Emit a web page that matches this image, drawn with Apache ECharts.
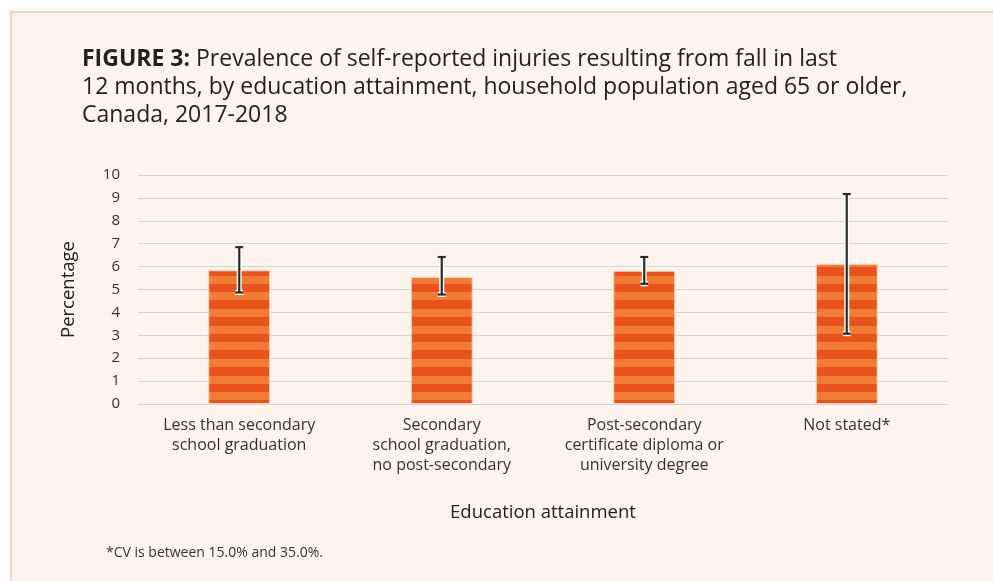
<!DOCTYPE html>
<html>
<head>
<meta charset="utf-8">
<script src="https://cdn.jsdelivr.net/npm/echarts@6/dist/echarts.min.js"></script>
<style>
html,body{margin:0;padding:0;background:#fff;}
#chart{width:993px;height:581px;}
</style>
</head>
<body>
<div id="chart"></div>
<script>
// data
var categories = [
    'Less than secondary\nschool graduation',
    'Secondary\nschool graduation,\nno post-secondary',
    'Post-secondary\ncertificate diploma or\nuniversity degree',
    'Not stated*'
];
var values = [5.84, 5.55, 5.82, 6.12];
var lowCI = [4.87, 4.78, 5.25, 3.07];
var highCI = [6.85, 6.42, 6.42, 9.17];
var yTicks = [0, 10, 1];  // min, max, interval

var chart = echarts.init(document.getElementById('chart'));

// striped fill for the bars
function stripes(){
    var c = document.createElement('canvas');
    c.width = 4; c.height = 50;
    var ctx = c.getContext('2d');
    var seq = [9, 8, 9, 8, 8, 8];
    var y = 0;
    for (var i = 0; i < seq.length; i++) {
        ctx.fillStyle = i % 2 === 0 ? '#e9511d' : '#f17c33';
        ctx.fillRect(0, y, 4, seq[i]);
        y += seq[i];
    }
    return c;
}

var errData = categories.map(function(c, i){ return [i, lowCI[i], highCI[i]]; });

const option = {
    backgroundColor: '#fff',
    animation: false,
    textStyle: { fontFamily: 'Open Sans' },
    graphic: [
        {
            type: 'rect', z: -10,
            shape: { x: 11, y: 12, width: 990, height: 580 },
            style: { fill: '#fdf4ee', stroke: '#f7c5ad', lineWidth: 1.5 }
        },
        {
            type: 'text', left: 82, top: 45,
            style: {
                text: '{b|FIGURE 3:} Prevalence of self-reported injuries resulting from fall in last\n12 months, by education attainment, household population aged 65 or older,\nCanada, 2017-2018',
                font: '23px "Open Sans"', fill: '#222', lineHeight: 28,
                rich: { b: { font: 'bold 23px "Open Sans"', fill: '#222' } }
            }
        },
        {
            type: 'text', left: 106, top: 546,
            style: { text: '*CV is between 15.0% and 35.0%.', font: '14px "Open Sans"', fill: '#333' }
        }
    ],
    grid: { left: 138, right: 45, top: 175, bottom: 177 },
    xAxis: {
        type: 'category',
        data: categories,
        name: 'Education attainment',
        nameLocation: 'middle',
        nameGap: 99,
        nameTextStyle: { fontSize: 18.5, color: '#222' },
        axisTick: { show: false },
        axisLine: { lineStyle: { color: '#d6d0cc' } },
        axisLabel: { color: '#333', fontSize: 16, lineHeight: 20, margin: 11, interval: 0 }
    },
    yAxis: {
        type: 'value',
        min: yTicks[0], max: yTicks[1], interval: yTicks[2],
        name: 'Percentage',
        nameLocation: 'middle',
        nameGap: 60,
        nameTextStyle: { fontSize: 18.5, color: '#222' },
        axisLine: { show: false },
        axisTick: { show: false },
        axisLabel: { color: '#333', fontSize: 15, margin: 18 },
        splitLine: { lineStyle: { color: '#d9d3cf', width: 1 } }
    },
    series: [
        {
            type: 'bar',
            data: values,
            barWidth: 62,
            itemStyle: {
                color: { image: stripes(), repeat: 'repeat' },
                borderColor: '#f9d9c8',
                borderWidth: 1
            }
        },
        {
            type: 'custom',
            data: errData,
            z: 10,
            renderItem: function(params, api){
                var x = api.value(0);
                var lo = api.coord([x, api.value(1)]);
                var hi = api.coord([x, api.value(2)]);
                var w = 4;
                var st = { stroke: '#2b2b2b', lineWidth: 2.2 };
                var halo = { stroke: '#ffffff', lineWidth: 5 };
                var lines = [
                    [hi[0], hi[1], lo[0], lo[1]],
                    [hi[0] - w, hi[1], hi[0] + w, hi[1]],
                    [lo[0] - w, lo[1], lo[0] + w, lo[1]]
                ];
                var children = [];
                lines.forEach(function(l){
                    children.push({ type: 'line', shape: { x1: l[0], y1: l[1], x2: l[2], y2: l[3] }, style: halo });
                });
                lines.forEach(function(l){
                    children.push({ type: 'line', shape: { x1: l[0], y1: l[1], x2: l[2], y2: l[3] }, style: st });
                });
                return { type: 'group', children: children };
            }
        }
    ]
};

chart.setOption(option);
window.addEventListener('resize', function(){ chart.resize(); });
</script>
</body>
</html>
